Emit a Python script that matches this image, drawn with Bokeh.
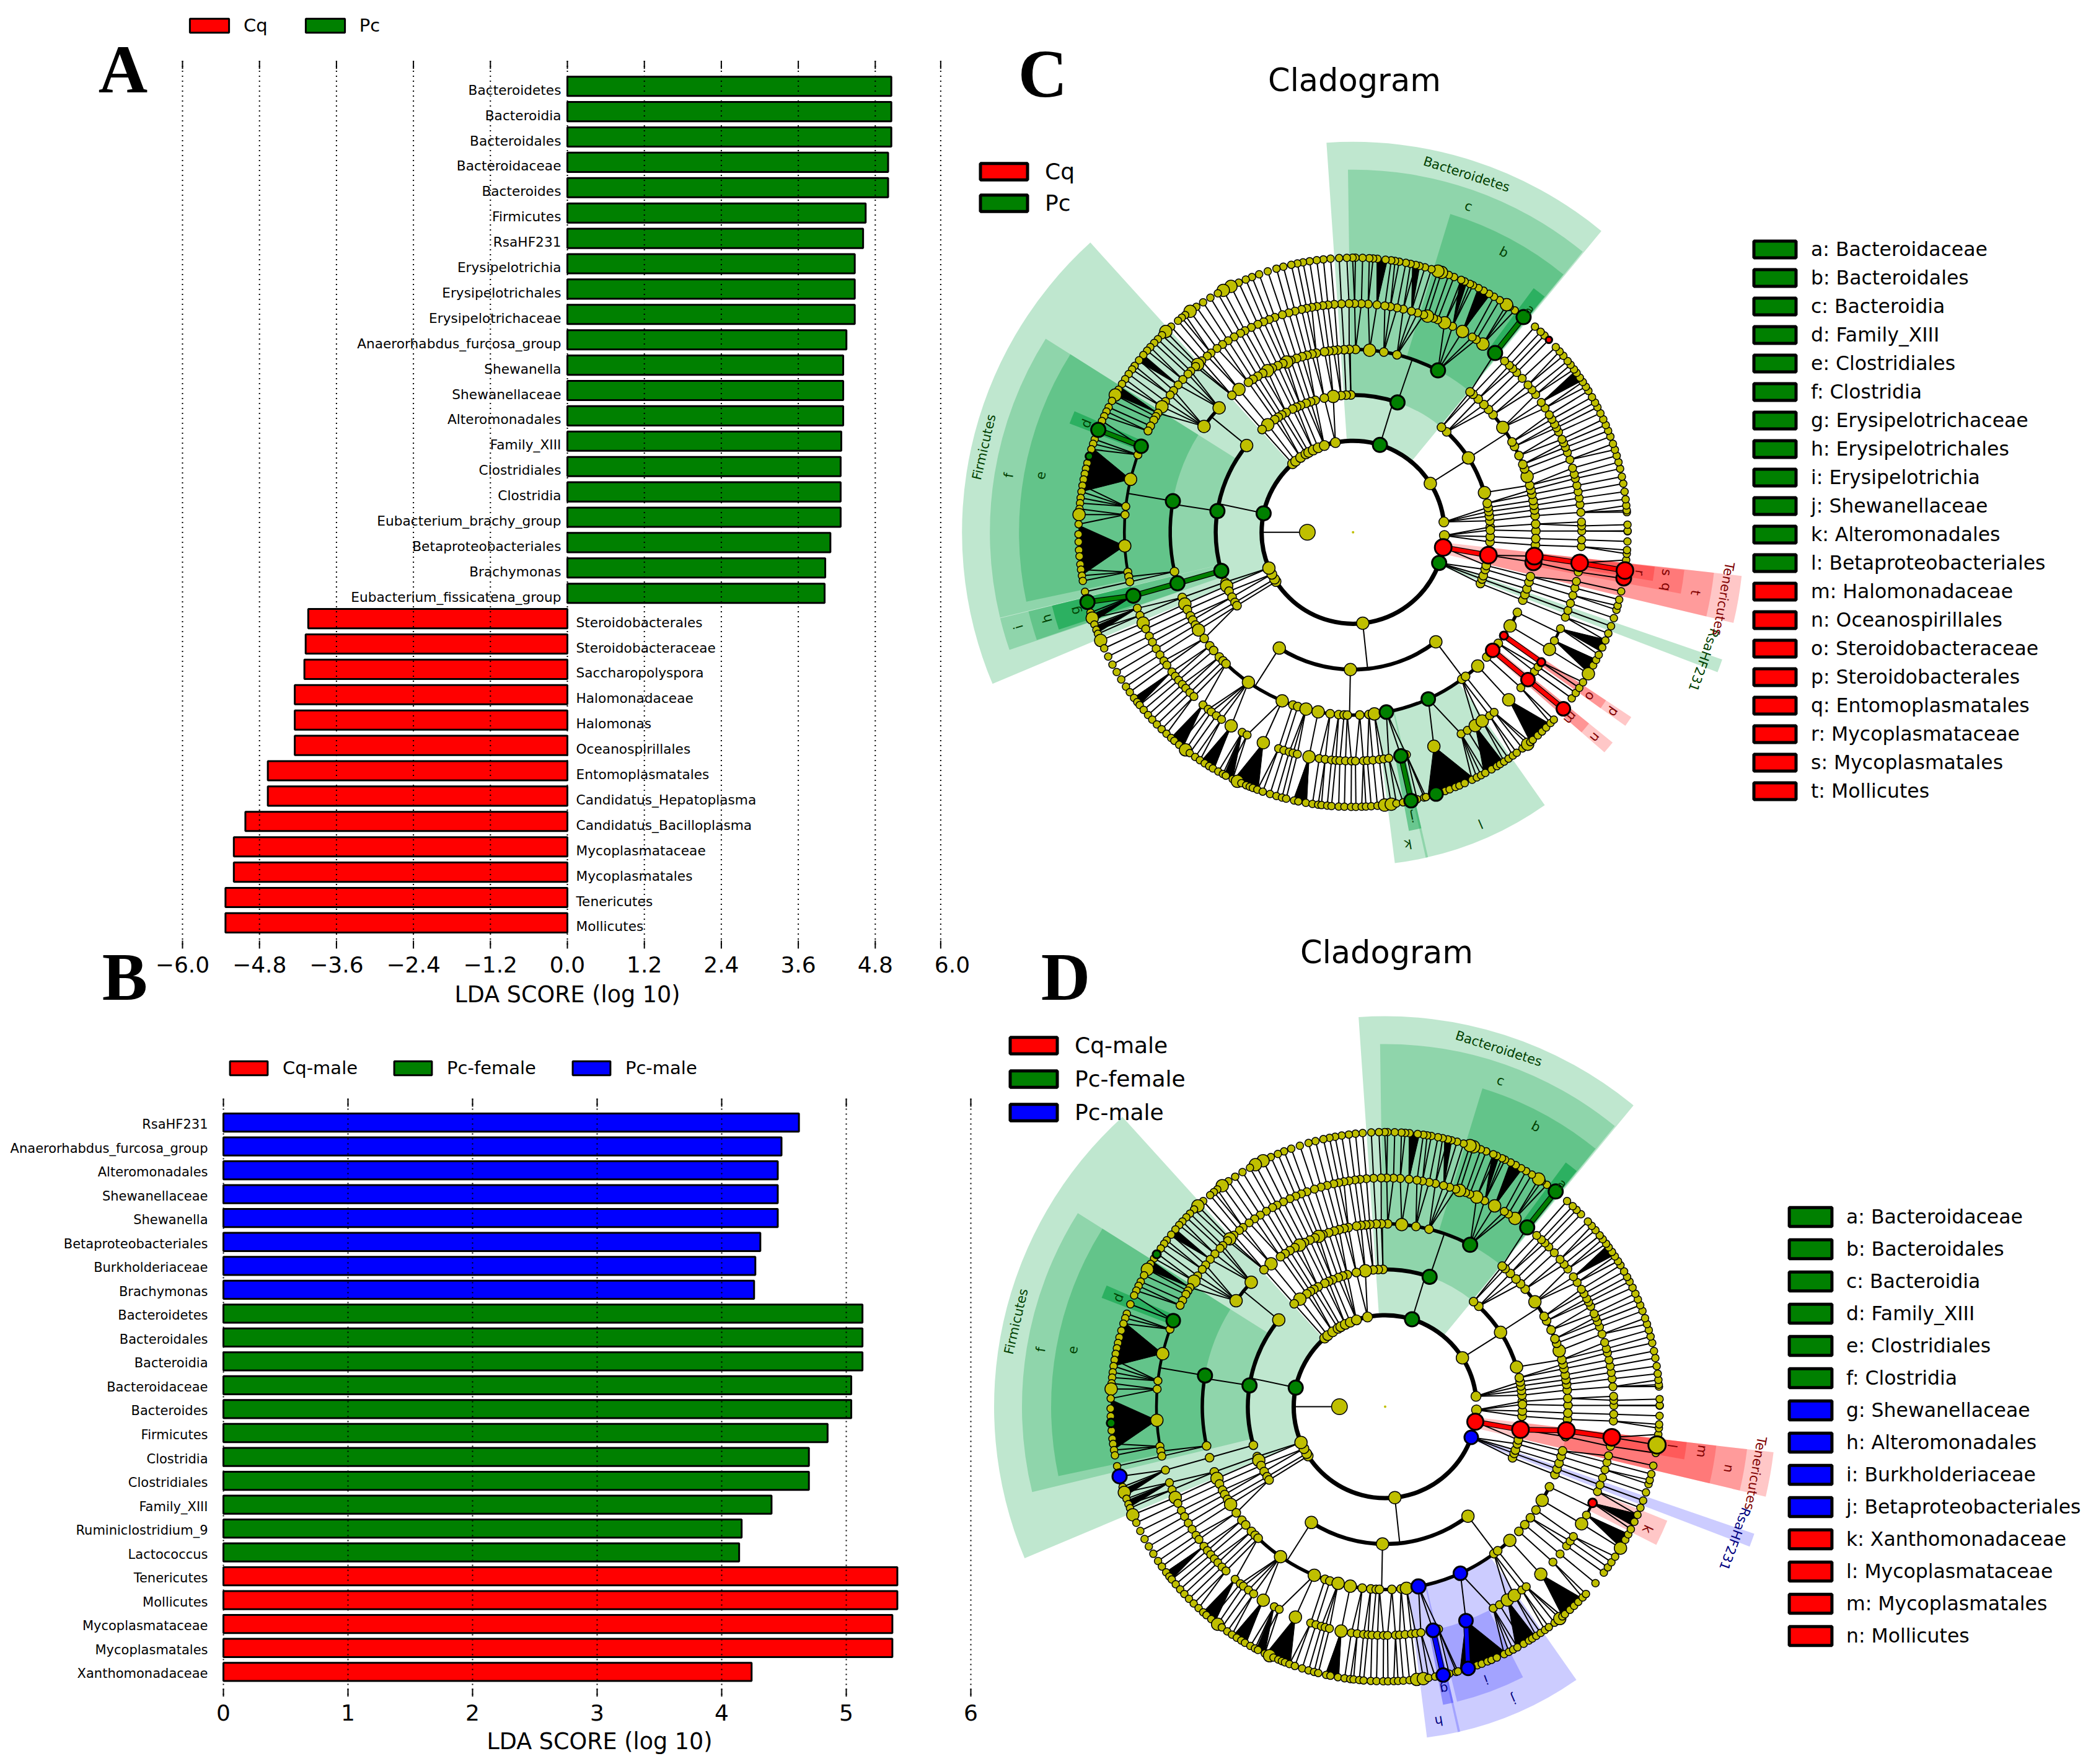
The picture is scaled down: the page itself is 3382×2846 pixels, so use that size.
import numpy as np
from bokeh.plotting import figure
from bokeh.layouts import row, column
from bokeh.models import Range1d, FixedTicker, Legend, LegendItem, Title
from bokeh.core.properties import value
from bokeh.embed import file_html
from bokeh.resources import INLINE

RED, GREEN, BLUE, YEL, SG = "#FF0000", "#008000", "#0000FF", "#BFBF00", "#00A040"
FONT = "DejaVu Sans"
X_LABEL = "LDA SCORE (log 10)"

# ---------- Panel A ----------
A_CATS = ["Bacteroidetes","Bacteroidia","Bacteroidales","Bacteroidaceae","Bacteroides","Firmicutes","RsaHF231",
          "Erysipelotrichia","Erysipelotrichales","Erysipelotrichaceae","Anaerorhabdus_furcosa_group","Shewanella",
          "Shewanellaceae","Alteromonadales","Family_XIII","Clostridiales","Clostridia","Eubacterium_brachy_group",
          "Betaproteobacteriales","Brachymonas","Eubacterium_fissicatena_group",
          "Steroidobacterales","Steroidobacteraceae","Saccharopolyspora","Halomonadaceae","Halomonas","Oceanospirillales",
          "Entomoplasmatales","Candidatus_Hepatoplasma","Candidatus_Bacilloplasma","Mycoplasmataceae","Mycoplasmatales",
          "Tenericutes","Mollicutes"]
A_VALS = [5.05,5.05,5.05,5.0,5.0,4.65,4.61,4.48,4.48,4.48,4.35,4.30,4.30,4.30,4.27,4.26,4.26,4.26,4.10,4.02,4.01,
          -4.04,-4.08,-4.10,-4.25,-4.25,-4.25,-4.67,-4.67,-5.02,-5.20,-5.20,-5.33,-5.33]
A_TICKS = [-6.0,-4.8,-3.6,-2.4,-1.2,0.0,1.2,2.4,3.6,4.8,6.0]
A_TICK_LABELS = ["\u22126.0","\u22124.8","\u22123.6","\u22122.4","\u22121.2","0.0","1.2","2.4","3.6","4.8","6.0"]
A_GRID = [-6.0,-4.8,-3.6,-2.4,-1.2,0.0,1.2,2.4,3.6,4.8,5.82]

# ---------- Panel B ----------
B_CATS = ["RsaHF231","Anaerorhabdus_furcosa_group","Alteromonadales","Shewanellaceae","Shewanella",
          "Betaproteobacteriales","Burkholderiaceae","Brachymonas",
          "Bacteroidetes","Bacteroidales","Bacteroidia","Bacteroidaceae","Bacteroides","Firmicutes","Clostridia",
          "Clostridiales","Family_XIII","Ruminiclostridium_9","Lactococcus",
          "Tenericutes","Mollicutes","Mycoplasmataceae","Mycoplasmatales","Xanthomonadaceae"]
B_VALS = [4.62,4.48,4.45,4.45,4.45,4.31,4.27,4.26,
          5.13,5.13,5.13,5.04,5.04,4.85,4.70,4.70,4.40,4.16,4.14,
          5.41,5.41,5.37,5.37,4.24]
B_GROUP = ["Pc-male"]*8 + ["Pc-female"]*11 + ["Cq-male"]*5
B_TICKS = [0,1,2,3,4,5,6]

# ---------- Cladogram tree: node angles (degrees) per ring ----------
RAD = {1:147.5, 2:221.5, 3:295.0, 4:369.0, 5:443.0}
R1 = [6.5,358,350.5,340.4,276.1,212.6,210.8,207.3,203,168,131.4,128.9,125,121,119,115.8,112.4,108.3,101.1,72.9,32.3]
R2 = [2.2,4.8,6.8,8.7,10.4,12.2,16.8,32.8,47,49.9,71.1,90.9,92.9,95,98.3,102.1,106,108,110,112.5,114.3,116.1,119.2,
      121.3,123,124.8,128.4,131.5,140.8,171.1,196.3,201.3,203,205.4,208.2,210.7,212.3,237.5,268.9,307.1,
      338.1,340.1,341.6,344.3,346,350.4,356,358.2,0.9]
R3 = [0.4,2.6,5.2,7,8.5,10,12,13.4,14.9,17.8,20.3,21.8,24.8,28,29.6,35,40,42.2,44.3,46.8,49,50.2,62.3,76.1,80.3,84.8,
      89.2,91.2,92.8,94.8,96.1,97.6,99,101.6,103,104.6,106.2,108,109.9,111.3,112.6,114.3,116.2,117.9,119.6,121.4,
      123.2,124.9,128.6,131.5,137.1,144.6,170.2,192.4,196.2,200.9,203.1,205,207.2,208.7,210.5,212.3,215.5,218.4,
      220.3,223,224.7,226,235.1,247.2,250.8,252.4,255.1,259,262.8,265.5,267.2,268.2,272.1,275,276.7,280.5,294.3,
      306.5,308,313,317,319.8,322.6,325.6,329.2,334,338.2,340.1,342,344.2,346,350.6,352.5,356,358]
R4 = [0.3,1.6,2.6,5,7,8.6,10.2,11.8,13.6,14.7,16.3,18.5,20.4,21.8,23,24,26,27.2,28.2,29.6,30.9,32.9,34.6,37,38.5,40.1,
      42.3,44.3,45.7,46.9,48.5,51.6,55.4,57.4,58.6,61.4,64.2,66.4,68.3,69.4,71,72,73.6,75.2,77.3,78.9,80.6,82,84,86.2,
      87.9,89.6,91,92.9,94.7,96.3,97.6,99.1,100.4,101.7,103,104.7,106.3,108,110,111.5,113,114.6,116.4,118.2,119.5,
      121.3,123.1,124.8,126.5,128.4,129.6,131.4,132.8,133.5,135.2,136.2,138.1,139.9,141.7,143.1,145.1,146.7,148.6,
      149.6,150.6,152.3,153.7,157.9,160.2,166.6,173.5,175.6,183.4,190,191.2,192.5,196.1,199.4,201.3,203.4,205,207,
      208.7,210.6,212.4,214.2,215.5,217.6,219,220.3,221.7,223,224.5,225.9,229,230.7,231.7,233.3,234.9,237.8,241,
      242.4,246.9,251,252.4,253.8,254.8,255.9,258.9,261.5,263,264.6,265.7,266.7,268.1,269.6,270.6,272.6,273.6,275,
      276.6,277.7,279,282.1,283.5,290.7,298.2,300,302.3,304.4,306.7,308.1,312.9,317.2,319.9,322.5,324,325.4,329.2,
      331.7,335.1,338.2,340,341.9,344,345.9,347.6,350,352.3,356.4,358.1]
R5 = [0.2,0.3,1.6,4.2,4.6,5.6,6.9,8.5,10.2,11.7,13.4,14.8,16.2,17.5,18.8,20.4,21.7,23,24.3,25.7,27.1,28.2,29.5,31,32,
      33.2,34.3,35.5,36.4,37.6,38.6,40,41.2,42.4,44.5,45.8,46.9,48.5,51.6,53.9,55.2,56,57.7,59.1,60.3,61.6,62.8,64.1,
      64.8,66,66.8,68.4,69.6,71.2,72,73.4,74.8,76,76.8,77.9,78.9,80.3,81.2,82,83.2,84.9,85.8,86.6,88,89.5,90.1,91.3,
      92.9,94.7,96.2,97.6,99.1,100.5,101.7,103,104.7,106.2,108.1,110,111.6,113,114.6,116.4,118.2,119.5,121.3,123.1,
      124.8,126.4,127.7,128.6,129.6,131.5,133,134.1,135.3,136.4,137.6,138.6,139.8,141.2,142.7,143.6,144.8,146.1,147.3,
      148.7,150,151.4,152.9,153.9,155,156.1,158.1,160.2,161.2,162.4,163.9,165.4,166.6,167.7,168.9,170.2,171.5,172.8,
      173.9,175.1,176.3,178.3,180.4,182,183.7,185,186.7,187.8,189.1,190.2,192.5,194.7,197,198.2,199.6,200.8,201.7,
      203.2,205,206.9,208.8,210.6,212.4,214.2,215.6,217.1,218.2,219,220.3,221.7,223,224.4,225.8,227.2,228.5,229.4,
      230.7,232.4,233.5,234.9,236.1,237.3,238.4,239.3,240.6,241.7,242.4,244,245.1,246,247.1,247.9,248.6,249.6,250.8,
      252.4,253.8,255,255.9,257.6,258.5,260.1,261.5,262.7,263.4,264.6,265.5,267,268.2,269.6,270.6,271.8,272.7,273.8,
      275.1,276.6,278,279.1,280.5,282.2,283.5,285,285.4,287.6,289.6,290.6,291.9,292.8,294,295.7,296.8,297.8,298.8,
      300.3,301.6,302.4,303.4,304.5,305.6,306.6,308.1,309.5,310.2,310.9,312.3,313.5,314.7,316,317,320,322.8,324.2,
      325.5,326.9,329,331,332.3,333.5,335.2,336.8,338.4,340,341.8,343.6,344.5,345.8,347.6,350.3,352,354.2,355.5,
      356.3,358.1]
BIG = {1:[276.1,203,32.3], 2:[32.8,237.5,268.9,307.1,140.8,16.8,203,91,98.3,128.4],
       3:[17.8,35,137.1,144.6,62.3,84.8,128.6,117.9,111.3,212.3,203.1,259,255.1,247.2,235.1,276.7,313,329.2],
       4:[166.6,183.4,51.6,55.4,61.4,66.4,71,146.7,132.8,203.4,237.8,246.9,258.9,290.7,302.3,304.4,312.9,329.2,17.8],
       5:[56,71.2,72,116.4,118.2,126.4,133,150,203.2,198.2,176.3,276.6,278,309.5,329,232.4,245.1]}
ARCS = [(1,6.5,340.4,7),(2,16.8,47,6.5),(2,71.1,93,6.5),(2,140.8,196.3,6.5),(2,237.5,307.1,6.5),
        (3,17.8,40,5.5),(3,62.3,91,5.5),(3,137.1,144.6,5.5),(3,170.2,192.4,5.5),(3,226,313,5.5),(3,329.2,334,5.5),
        (4,157.9,190,4.5),(4,329.2,335.1,4.5)]
FANS = [(166.6,162,171.5),(183.4,178.5,189),(196.1,197.5,199),(199.4,200,201.5),(217.6,217,219),(229,228.5,231.7),
        (237.8,236.4,239.6),(241,242,244),(246.9,244.2,249.8),(258.9,257.4,260.3),(290.7,285.8,296.2),
        (302.3,298.5,303.2),(312.9,310.2,315.8),(335.1,334.3,337),(331.7,329.1,332.4),(61.4,60,62.8),(64.2,65.5,67),
        (84,82.8,85),(75.2,76,77.5),(139.9,139.8,141.5),(148.6,148,150),(34.6,33.5,36)]

# Sectors: colour, angle from, angle to, radius from, radius to, opacity
SEC_BACT = [(SG,50.5,93.9,147.5,630,.25),(SG,50.7,90.8,221.5,585,.25),(SG,50.8,73,295,537,.30),(SG,50.9,53.5,369,490,.55)]
SEC_FIRM = [(SG,132.2,202.8,147.5,631,.25),(SG,147.8,193.6,221.5,586,.25),(SG,147.8,192,295,539,.30),(SG,156.5,159,369,490,.55)]
SEC_C = SEC_BACT + SEC_FIRM + [
    (SG,193.7,198.9,221.5,586,.25),(SG,193.7,198.8,295,539,.30),(SG,193.7,198.3,369,500,.55),
    (SG,282.6,305.1,295,538,.25),(SG,277.2,283,295,538,.25),(SG,280.6,283,369,490,.45),
    (SG,339,341,147.5,630,.25),
    (RED,346.6,353.6,147.5,631,.22),(RED,346.6,353.6,221.5,586,.22),(RED,349.4,353.5,295,538,.22),(RED,350.8,353.5,369,490,.25),
    (RED,318.8,321,295,539,.22),(RED,318.8,321,369,490,.25),(RED,324.6,326.4,295,539,.22),(RED,324.6,326.4,369,490,.25)]
SEC_D = SEC_BACT + SEC_FIRM + [
    (BLUE,282.6,305,295,538,.2),(BLUE,277.2,283,295,538,.2),(BLUE,283.7,297,369,490,.2),(BLUE,281,283,369,490,.3),
    (BLUE,339,341,147.5,630,.2),
    (RED,346.7,353.3,147.5,631,.22),(RED,346.7,353.3,221.5,588,.22),(RED,346.7,353.3,295,538,.22),(RED,350,353.3,369,490,.25),
    (RED,333,338,369,491,.22)]
DG, DR, DB = "#004000", "#800000", "#000080"
LAB_COMMON = [("Bacteroidetes",72.4,606,DG),("c",70.5,558,DG),("b",61.7,513,DG),("a",51.5,459,DG),
              ("Firmicutes",167,611,DG),("f",170.6,563,DG),("e",169.7,513,DG),("d",157.8,465,DG)]
LAB_C = LAB_COMMON + [("g",195.7,466,DG),("h",195.7,513,DG),("i",195.8,561,DG),("j",281.7,469,DG),("k",280,511,DG),
                      ("l",293.6,513,DG),("RsaHF231",340,602,DG),("Tenericutes",349.8,607,DR),("t",350,561,DR),
                      ("s",352.7,510,DR),("q",350.1,513,DR),("r",352,467,DR),("m",319.5,461,DR),("n",319.7,512,DR),
                      ("o",325.3,465,DR),("p",325.4,511,DR)]
LAB_D = LAB_COMMON + [("g",281.8,465,DB),("h",279.7,514,DB),("i",290.3,469,DB),("j",293.7,515,DB),("RsaHF231",339.3,603,DB),
                      ("Tenericutes",349.8,607,DR),("n",349.8,563,DR),("m",352,516,DR),("l",352.2,467,DR),("k",335,467,DR)]
# Highlighted nodes: ring, angle, colour, radius
NODES_C = [(1,72.9,GREEN,11.5),(1,168,GREEN,11.5),(1,340.4,GREEN,11.5),(2,71.1,GREEN,11.5),(2,171.1,GREEN,11.5),(2,196.3,GREEN,11.5),
           (3,62.3,GREEN,11.5),(3,170.2,GREEN,11.5),(3,196.2,GREEN,11.5),(3,280.5,GREEN,11),(3,294.3,GREEN,11),
           (4,51.6,GREEN,11.5),(4,157.9,GREEN,11),(4,196.1,GREEN,11.5),(4,282.1,GREEN,11),
           (5,51.6,GREEN,11.5),(5,158.1,GREEN,11.5),(5,194.7,GREEN,11.5),(5,282.2,GREEN,11),(5,287.6,GREEN,11),(5,163.9,GREEN,6),
           (1,350.5,RED,13.5),(2,350.4,RED,13.5),(3,350.6,RED,13),(3,352.5,RED,13.5),(4,352.3,RED,13.5),(5,350.4,RED,12),(5,352,RED,13.5),
           (3,325.6,RED,6.5),(3,319.8,RED,11),(4,325.4,RED,6.5),(4,319.9,RED,11),(5,320,RED,11),(5,44.5,RED,5)]
NODES_D = [(1,72.9,GREEN,11.5),(1,168,GREEN,11.5),(2,71.1,GREEN,11.5),(2,171.1,GREEN,11.5),(3,62.3,GREEN,11.5),(3,170.2,GREEN,11.5),
           (4,51.6,GREEN,11.5),(4,157.9,GREEN,11),(5,51.6,GREEN,11.5),(5,146.3,GREEN,6.5),(5,183.4,GREEN,7),
           (1,340.4,BLUE,11),(3,294.3,BLUE,11),(3,280.5,BLUE,11.5),(4,282.1,BLUE,11),(4,290.7,BLUE,11),
           (5,194.7,BLUE,11.5),(5,282.2,BLUE,11),(5,287.6,BLUE,11),
           (1,350.5,RED,13),(2,350.4,RED,13.5),(3,352.5,RED,13.5),(4,352.3,RED,13.5),(4,335.1,RED,7),(5,352,YEL,14)]
# Highlighted edges: ring, angle, ring, angle, colour
EDGES_C = [(2,196.3,3,196.2,GREEN),(3,196.2,4,196.1,GREEN),(4,196.1,5,194.7,GREEN),(4,157.9,5,158.1,GREEN),(4,282.1,5,282.2,GREEN),
           (4,51.6,5,51.6,GREEN),(1,350.5,2,350.4,RED),(3,352.5,4,352.3,RED),(4,352.3,5,352,RED),
           (3,325.6,4,325.4,RED),(3,319.8,4,319.9,RED),(4,319.9,5,320,RED)]
EDGES_D = [(1,350.5,2,350.4,RED),(2,350.4,3,352.5,RED),(3,352.5,4,352.3,RED),(4,282.1,5,282.2,BLUE),(4,290.7,5,287.6,BLUE),(4,51.6,5,51.6,GREEN)]

LEG_C = ["a: Bacteroidaceae","b: Bacteroidales","c: Bacteroidia","d: Family_XIII","e: Clostridiales","f: Clostridia",
         "g: Erysipelotrichaceae","h: Erysipelotrichales","i: Erysipelotrichia","j: Shewanellaceae","k: Alteromonadales",
         "l: Betaproteobacteriales","m: Halomonadaceae","n: Oceanospirillales","o: Steroidobacteraceae",
         "p: Steroidobacterales","q: Entomoplasmatales","r: Mycoplasmataceae","s: Mycoplasmatales","t: Mollicutes"]
LEG_C_COL = [GREEN]*12 + [RED]*8
LEG_D = ["a: Bacteroidaceae","b: Bacteroidales","c: Bacteroidia","d: Family_XIII","e: Clostridiales","f: Clostridia",
         "g: Shewanellaceae","h: Alteromonadales","i: Burkholderiaceae","j: Betaproteobacteriales","k: Xanthomonadaceae",
         "l: Mycoplasmataceae","m: Mycoplasmatales","n: Mollicutes"]
LEG_D_COL = [GREEN]*6 + [BLUE]*4 + [RED]*4


def style_bar(p, ticks, label_left, labels=None, standoff=8):
    p.outline_line_color = None
    p.background_fill_alpha = 0
    p.border_fill_alpha = 0
    p.grid.visible = False
    ax = p.xaxis[0]
    ax.ticker = FixedTicker(ticks=ticks)
    if labels:
        ax.major_label_overrides = dict(zip(ticks, labels))
    ax.axis_line_color = None
    ax.minor_tick_line_color = None
    ax.major_tick_in, ax.major_tick_out = 0, 0
    ax.major_tick_line_color = None
    ax.major_label_text_font = FONT
    ax.major_label_text_font_size = "36px"
    ax.major_label_text_color = "black"
    ax.major_label_standoff = 12
    p.add_layout(Title(text=X_LABEL, align="left", offset=label_left, standoff=standoff, text_font=FONT, text_font_size="36.5px",
                       text_font_style="normal", text_color="black"), "below")


def grid_marks(p, grid_x, y_top, y_bottom, tick_len):
    n = len(grid_x)
    p.segment(x0=grid_x, x1=grid_x, y0=[y_top]*n, y1=[y_bottom]*n, line_color="black", line_width=2, line_dash="2 6")
    p.segment(x0=grid_x, x1=grid_x, y0=[y_top]*n, y1=[y_top+tick_len]*n, line_color="black", line_width=2)
    p.segment(x0=grid_x, x1=grid_x, y0=[y_bottom-tick_len]*n, y1=[y_bottom]*n, line_color="black", line_width=2)


def bar_legend(p, names, rends, x, y, gw, gh, sb, sp):
    items = [LegendItem(label=n, renderers=[r]) for n, r in zip(names, rends)]
    leg = Legend(items=items, location=(x, y), orientation="horizontal", padding=0, margin=0, spacing=sp,
                 label_standoff=sb, glyph_width=gw, glyph_height=gh, border_line_color=None,
                 background_fill_alpha=0, label_text_font=FONT, label_text_font_size="29px", label_text_color="black")
    p.add_layout(leg, "center")


def letter(p, t, x, y):
    p.text(x=[x], y=[y], text=[t], text_align="center", text_baseline="middle", text_font=value("Liberation Serif"),
           text_font_style="bold", text_font_size=value("110px"), text_color="black")


# A: frame spans the canvas down to the axis
AY = lambda px: (px-138.7)/40.9
AX = lambda px: (px-915)/103.5
pa = figure(width=1588, height=1648, x_range=Range1d(AX(0), AX(1588)), y_range=Range1d(AY(1530), AY(0)),
            frame_width=1588, frame_height=1530, min_border=0, min_border_bottom=118, y_axis_location=None,
            toolbar_location=None, output_backend="svg")
style_bar(pa, A_TICKS, 733, A_TICK_LABELS, standoff=19)
a_y = list(range(len(A_CATS)))
rends = {}
for col, sel in ((RED, lambda v: v < 0), (GREEN, lambda v: v > 0)):
    idx = [i for i in a_y if sel(A_VALS[i])]
    rends[col] = pa.hbar(y=idx, left=0, right=[A_VALS[i] for i in idx], height=0.76, fill_color=col, line_color="black", line_width=3)
    pa.text(x=[0]*len(idx), y=idx, text=[A_CATS[i] for i in idx], x_offset=-10 if col == GREEN else 14, y_offset=6,
            text_align="right" if col == GREEN else "left", text_baseline="middle",
            text_font=value(FONT), text_font_size=value("21.7px"), text_color="black")
grid_marks(pa, A_GRID, AY(97.6), AY(1530), 13/40.9)
bar_legend(pa, ["Cq", "Pc"], [rends[RED], rends[GREEN]], 298, 1472, 79, 28, 16, 53)
letter(pa, "A", AX(198), AY(111))

# B: frame starts above its letter; canvas overlaps A's axis band transparently
BY = lambda px: (px-1810.6)/38.53
BX = lambda px: (px-360)/201
pb = figure(width=1588, height=1340, x_range=Range1d(BX(0), BX(1588)), y_range=Range1d(BY(2737), BY(1500)),
            frame_width=1588, frame_height=1237, min_border=0, min_border_bottom=103, y_axis_location=None,
            margin=(-148, 0, 0, 0), toolbar_location=None, output_backend="svg")
style_bar(pb, B_TICKS, 785, standoff=14)
b_y = list(range(len(B_CATS)))
rb = {}
for name, col in (("Cq-male", RED), ("Pc-female", GREEN), ("Pc-male", BLUE)):
    idx = [i for i in b_y if B_GROUP[i] == name]
    rb[name] = pb.hbar(y=idx, left=0, right=[B_VALS[i] for i in idx], height=0.76, fill_color=col, line_color="black", line_width=3)
pb.text(x=[0]*len(b_y), y=b_y, text=B_CATS, x_offset=-25, y_offset=3, text_align="right", text_baseline="middle",
        text_font=value(FONT), text_font_size=value("21px"), text_color="black")
grid_marks(pb, B_TICKS, BY(1772), BY(2737), 13/38.53)
bar_legend(pb, ["Cq-male", "Pc-female", "Pc-male"], [rb["Cq-male"], rb["Pc-female"], rb["Pc-male"]], 363, 997, 76, 28, 17, 51)
letter(pb, "B", BX(201), BY(1575))


def pol(ring, a):
    r = RAD[ring]
    return r*np.cos(np.radians(a)), r*np.sin(np.radians(a))


def cladogram(width, height, left, top, cx, cy, sectors, labels, nodes, edges, title, title_xy, let, letter_xy,
              small_names, small_cols, small_xy, small_gw, small_sp, leg_names, leg_cols, leg_xy, leg_gw, leg_h, leg_spacing, leg_sb, shift=0):
    x0, x1 = left-cx, left+width-cx
    y0, y1 = cy-(top+height), cy-top
    kw = {"margin": (0, 0, 0, -shift)} if shift else {}
    p = figure(width=width+shift, height=height, frame_width=width+shift, frame_height=height, x_range=Range1d(x0, x1), y_range=Range1d(y0, y1),
               min_border=0, x_axis_location=None, y_axis_location=None,
               toolbar_location=None, output_backend="svg", **kw)
    p.grid.visible = False
    p.outline_line_color = None
    p.background_fill_alpha = 0
    p.border_fill_alpha = 0
    for col, a0, a1, r0, r1, al in sectors:
        p.annular_wedge(x=0, y=0, inner_radius=r0, outer_radius=r1, start_angle=np.radians(a0), end_angle=np.radians(a1),
                        fill_color=col, fill_alpha=al, line_color=None)
    rings = {1: R1, 2: R2, 3: R3, 4: R4, 5: R5}

    def in_arc(ring, a):
        return any(rg == ring and s <= a <= e for rg, s, e, _ in ARCS)
    xs, ys = [], []
    thr = {1: 5, 2: 5, 3: 5, 4: 8}
    for k in (1, 2, 3, 4):
        par = np.array(rings[k])
        for a in rings[k+1]:
            if in_arc(k+1, a):
                continue
            d = np.abs((par-a+180) % 360-180)
            i = int(np.argmin(d))
            if d[i] < thr[k]:
                xa, ya = pol(k, par[i]); xb, yb = pol(k+1, a)
                xs.append([xa, xb]); ys.append([ya, yb])
        for a in rings[k]:
            if in_arc(k+1, a):
                xa, ya = pol(k, a); xb, yb = pol(k+1, a)
                xs.append([xa, xb]); ys.append([ya, yb])
    xc, yc = RAD[1]/2*np.cos(np.pi), RAD[1]/2*np.sin(np.pi)
    xb, yb = pol(1, 180)
    xs.append([xc, xb]); ys.append([yc, yb])
    p.multi_line(xs, ys, line_color="black", line_width=2)
    fx, fy = [], []
    for par, a0, a1 in FANS:
        xa, ya = pol(4, par); xb, yb = pol(5, a0); xe, ye = pol(5, a1)
        fx.append([xa, xb, xe]); fy.append([ya, yb, ye])
    p.patches(fx, fy, fill_color="black", line_color="black", line_width=1)
    for rg, s, e, lw in ARCS:
        p.arc(x=0, y=0, radius=RAD[rg], start_angle=np.radians(s), end_angle=np.radians(e), line_color="black", line_width=lw)
    for ra, aa, rb_, ab, col in edges:
        xa, ya = pol(ra, aa); xb, yb = pol(rb_, ab)
        p.line([xa, xb], [ya, yb], line_color="black", line_width=9)
        p.line([xa, xb], [ya, yb], line_color=col, line_width=6.5)
    for k, base in ((5, 6), (4, 6.5), (3, 7), (2, 7), (1, 8)):
        a = np.array(rings[k])
        big = np.array([any(abs(v-b) < 0.01 for b in BIG[k]) for v in a])
        x, y = pol(k, a)
        p.circle(x=x, y=y, radius=np.where(big, 10.0, base), fill_color=YEL, line_color="black", line_width=1.5)
    p.circle(x=[xc], y=[yc], radius=12.7, fill_color=YEL, line_color="black", line_width=1.5)
    p.circle(x=[0], y=[0], radius=2, fill_color=YEL, line_color=None)
    for k, a, col, rd in nodes:
        x, y = pol(k, a)
        p.circle(x=[x], y=[y], radius=rd, fill_color=col, line_color="black", line_width=3)
    tx = [r*np.cos(np.radians(a)) for _, a, r, _ in labels]
    ty = [r*np.sin(np.radians(a)) for _, a, r, _ in labels]
    p.text(x=tx, y=ty, text=[l[0] for l in labels], angle=[np.radians(l[1]-90) for l in labels],
           text_color=[l[3] for l in labels], text_align="center", text_baseline="middle",
           text_font=value(FONT), text_font_size=value("21px"))
    p.text(x=[title_xy[0]-cx], y=[cy-title_xy[1]], text=[title], text_align="center", text_baseline="middle",
           text_font=value(FONT), text_font_size=value("51px"), text_color="black")
    letter(p, let, letter_xy[0]-cx, cy-letter_xy[1])

    def legend(names, cols, xy, gw, gh, sp, fs, sb):
        items = []
        for n, c in zip(names, cols):
            r = p.quad(left=[np.nan], right=[np.nan], top=[np.nan], bottom=[np.nan], fill_color=c, line_color="black", line_width=5)
            items.append(LegendItem(label=n, renderers=[r]))
        lg = Legend(items=items, location=xy, orientation="vertical", padding=0, margin=0, spacing=sp, glyph_width=gw,
                    glyph_height=gh, label_standoff=sb, label_height=20, border_line_color=None, background_fill_alpha=0,
                    label_text_font=FONT, label_text_font_size=fs, label_text_color="black")
        p.add_layout(lg, "center")
    legend(small_names, small_cols, small_xy, small_gw, 33, small_sp, "36px", 19)
    legend(leg_names, leg_cols, leg_xy, leg_gw, leg_h, leg_spacing, "31.5px", leg_sb)
    return p


pc = cladogram(1830, 1480, 1540, 0, 2182.7, 858.3, SEC_C, LAB_C, NODES_C, EDGES_C, "Cladogram", (2185, 129), "C", (1682, 118),
               ["Cq", "Pc"], [RED, GREEN], (32, 1132), 95, 10, LEG_C, LEG_C_COL, (1281, 186), 85, 34, 10, 16, shift=48)
pd_ = cladogram(1782, 1360, 1588, 1480, 2234.5, 2269.0, SEC_D, LAB_D, NODES_D, EDGES_D, "Cladogram", (2237, 1536), "D", (1719, 1575),
                ["Cq-male", "Pc-female", "Pc-male"], [RED, GREEN, BLUE], (32, 1025), 95, 13, LEG_D, LEG_D_COL, (1290, 182), 86, 38, 14, 15)

page = row(column(pa, pb, spacing=0), column(pc, pd_, spacing=0), spacing=0)
open("out.html", "w").write(file_html(page, INLINE))
